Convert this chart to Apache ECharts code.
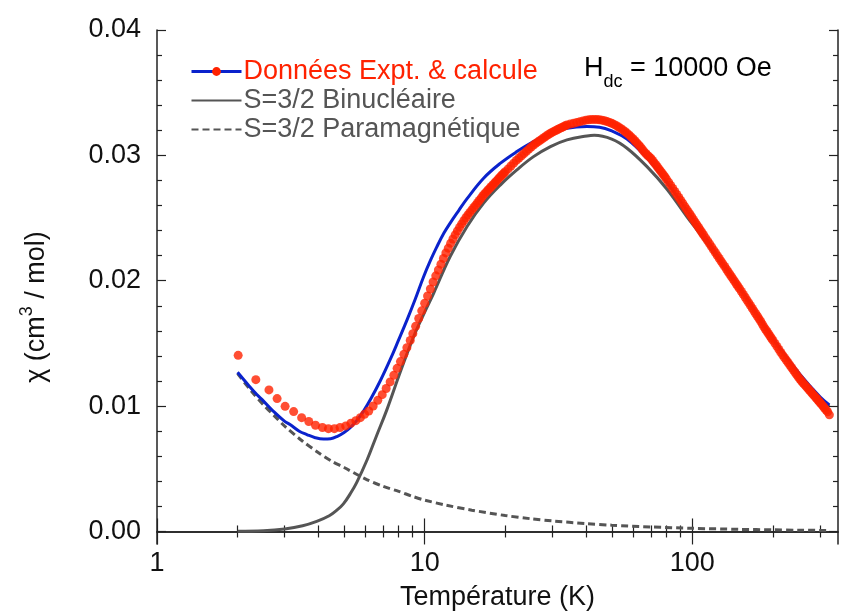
<!DOCTYPE html>
<html><head><meta charset="utf-8">
<script src="https://cdn.jsdelivr.net/npm/echarts@6/dist/echarts.min.js"></script>
<style>html,body{margin:0;padding:0;background:#fff}#c{width:845px;height:612px}</style>
</head><body><div id="c"></div>
<script>
// ---- data ----
const redT = [2.01,2.34,2.62,2.81,3.01,3.24,3.47,3.69,3.91,4.15,4.37,4.60,4.83,5.07,5.30,5.53,5.75,5.96,6.18,6.42,6.68,6.94,7.18,7.43,7.67,7.89,8.12,8.36,8.58,8.83,9.03,
  9.25,9.5,9.75,10,10.25,10.5,10.75,11,11.25,11.5,11.75,
  12,12.25,12.5,12.75,13,13.25,13.5,13.75,14,14.25,14.5,14.75,15,15.25,15.5,15.75,16,16.25,16.5,16.75,17,17.25,17.5,17.75,18,18.25,18.5,18.75,19,19.25,19.5,19.75,
  20,20.5,21,21.5,22,22.5,23,23.5,24,24.5,25,25.5,26,26.5,27,27.5,28,28.5,29,29.5,30,30.5,31,31.5,32,32.5,33,33.5,34,
  35,36,37,38,39,40,41,42,43,44,45,46,47,48,49,50,51,52,53,54,55,56,57,58,59,60,61,62,63,64,65,66,67,68,69,70,71,72,73,74,75,76,77,78,79,80,
  81.5,83,84.5,86,87.5,89,90.5,92,93.5,95,96.5,98,99.5,101,102.5,104,105.5,107,108.5,110,
  112,114,116,118,120,122,124,126,128,130,132,134,136,138,140,142,144,146,148,150,
  152.5,155,157.5,160,162.5,165,167.5,170,172.5,175,177.5,180,182.5,185,187.5,190,192.5,195,197.5,200,
  203.5,207,210.5,214,217.5,221,224.5,228,231.5,235,238.5,242,245.5,249,252.5,256,259.5,263,266.5,270,273.5,277,280.5,284,287.5,291,294.5,298,301.5,305,308.5,312,316,320,325];
const redChi = [0.01405,0.01211,0.01129,0.0106,0.00998,0.00956,0.00908,0.00877,0.00847,0.00829,0.0082,0.0082,0.00829,0.00842,0.00863,0.00884,0.00908,0.00935,0.00961,0.01001,0.01046,0.01091,0.0114,0.01193,0.01246,0.01301,0.01355,0.01413,0.01466,0.01524,0.01578,
  0.01636,0.01699,0.0176,0.0182,0.01878,0.01934,0.0199,0.02039,0.02086,0.02132,0.02178,
  0.02222,0.0226,0.02298,0.02333,0.02366,0.02397,0.02426,0.02453,0.02478,0.02502,0.02524,0.02545,0.02565,0.02584,0.02603,0.02622,0.0264,0.02659,0.02678,0.02694,0.02709,0.02724,0.02738,0.02752,0.02766,0.0278,0.02793,0.02807,0.0282,0.02833,0.02845,0.02857,
  0.02869,0.02892,0.02915,0.02938,0.0296,0.02979,0.02997,0.03015,0.03033,0.0305,0.03067,0.03082,0.03096,0.03108,0.0312,0.03132,0.03144,0.03155,0.03166,0.03176,0.03185,0.03193,0.032,0.03208,0.03215,0.03222,0.03229,0.03236,0.03243,
  0.0325,0.03256,0.03263,0.03269,0.03275,0.03281,0.03284,0.03286,0.03287,0.03286,0.03284,0.03281,0.03276,0.0327,0.03263,0.03256,0.03247,0.03237,0.03226,0.03215,0.03203,0.0319,0.03177,0.03163,0.03148,0.03133,0.03117,0.031,0.03084,0.03068,0.03049,0.0303,0.03015,0.03,0.02988,0.02976,0.02959,0.02942,0.02926,0.02909,0.02892,0.02876,0.0286,0.02844,0.02828,0.02811,
  0.02786,0.02761,0.02736,0.02712,0.02688,0.02664,0.02641,0.02618,0.02595,0.02573,0.02551,0.0253,0.02508,0.02487,0.02466,0.02446,0.02426,0.02406,0.02386,0.02367,
  0.02342,0.02318,0.02294,0.0227,0.02246,0.02223,0.022,0.02178,0.02156,0.02135,0.02114,0.02093,0.02072,0.02052,0.02032,0.02013,0.01993,0.01974,0.01955,0.01937,
  0.01914,0.01891,0.01868,0.01845,0.01823,0.01801,0.01779,0.01758,0.01737,0.01717,0.01696,0.01676,0.01654,0.01632,0.01613,0.01595,0.01577,0.01559,0.01541,0.01524,
  0.015,0.01476,0.01452,0.01428,0.01407,0.01386,0.01366,0.01346,0.01326,0.01306,0.01287,0.01268,0.01249,0.01231,0.01214,0.01198,0.01183,0.01169,0.01155,0.01141,0.01127,0.01114,0.011,0.01087,0.01074,0.01061,0.01048,0.01035,0.01022,0.0101,0.00997,0.00983,0.00969,0.00955,0.0093];

const calcT = [2.0,2.2,2.36,2.5,2.72,3.0,3.14,3.4,3.63,3.9,4.19,4.45,4.7,5.0,5.27,5.6,5.91,6.3,6.82,7.43,8.0,8.6,9.21,9.9,10.5,11.1,11.8,12.45,13.4,14.4,16.6,19.2,22.1,25.5,29.5,34,40.4,45,50,57,67.7,80,95.5,107,127,151,180,213,253,301,325];
const calcChi = [0.0127,0.01165,0.01092,0.0104,0.00959,0.00878,0.00853,0.0080,0.00773,0.00748,0.00737,0.0074,0.00757,0.0079,0.00828,0.0089,0.0096,0.0106,0.0120,0.0137,0.0153,0.0169,0.0185,0.0203,0.0216,0.0227,0.0238,0.0246,0.0256,0.02655,0.02818,0.02938,0.0303,0.0311,0.03177,0.03217,0.0323,0.03225,0.03195,0.0313,0.0298,0.0279,0.0256,0.0241,0.0217,0.0194,0.0169,0.0146,0.0125,0.0107,0.0101];

const binT = [2.0,2.5,3.0,3.5,3.95,4.4,4.7,4.97,5.27,5.57,6.09,6.6,7.22,8.1,9.08,10.0,10.8,12.45,14.4,16.6,19.2,22.1,25.5,29.5,34,40.4,43,50,57,67.7,80.4,95.5,107,127,151,180,213,253,301,325];
const binChi = [0.00002,0.00006,0.0002,0.00045,0.0008,0.00125,0.0017,0.0022,0.003,0.0039,0.0057,0.0076,0.0097,0.0127,0.0155,0.0175,0.0190,0.02193,0.02433,0.02619,0.02765,0.02884,0.0299,0.0307,0.03124,0.03155,0.0316,0.0313,0.03057,0.0291,0.0273,0.0251,0.0237,0.0215,0.0193,0.0168,0.0145,0.0124,0.0106,0.0100];

const paraT = [2.0,2.25,2.5,2.75,3.0,3.5,4.0,4.5,5.0,6.0,7.0,8.0,9.0,10,12,15,20,25,30,40,50,70,100,150,200,250,325];
const paraChi = [0.0126,0.0112,0.0101,0.0092,0.0084,0.0072,0.0063,0.0056,0.0051,0.0042,0.0036,0.0032,0.0028,0.0025,0.0021,0.0017,0.00127,0.00101,0.00084,0.00063,0.0005,0.00036,0.00025,0.00017,0.00013,0.0001,0.00008];

const seriesNames = ['Données Expt. & calcule','S=3/2 Binucléaire','S=3/2 Paramagnétique'];
const xMajorTicks = [1,10,100];
const xMinorTicks = [2,3,4,5,6,7,8,9,20,30,40,50,60,70,80,90,200,300];
const yMajorTicks = [0,0.01,0.02,0.03,0.04];
const yMinorTicks = [0.002,0.004,0.006,0.008,0.012,0.014,0.016,0.018,0.022,0.024,0.026,0.028,0.032,0.034,0.036,0.038];

// ---- styles ----
const FONT = 'Liberation Sans';
const RED = '#ff2200', BLUE = '#0a22cc', GREY = '#555555', AX = '#222222';
const pairs = (a, b) => a.map((t, i) => [t, b[i]]);

function xAx(pos, ticks, len, showLine, labels) {
  return {
    type: 'log', logBase: 10, min: 1, max: 350, position: pos, gridIndex: 0,
    axisLine: { show: showLine, lineStyle: { color: AX, width: 1.5 } },
    axisTick: { show: true, inside: true, length: len, customValues: ticks, lineStyle: { color: AX, width: 1.2 } },
    axisLabel: labels ? { show: true, customValues: ticks, fontSize: 27, fontFamily: FONT, color: '#111', margin: 6, formatter: v => String(Math.round(v)) } : { show: false },
    splitLine: { show: false }, minorTick: { show: false }
  };
}
function yAx(pos, ticks, len, showLine, labels) {
  return {
    type: 'value', min: -0.001, max: 0.04, position: pos, gridIndex: 0,
    axisLine: { show: showLine, lineStyle: { color: AX, width: 1.5 } },
    axisTick: { show: true, inside: true, length: len, customValues: ticks, lineStyle: { color: AX, width: 1.2 } },
    axisLabel: labels ? { show: true, customValues: ticks, fontSize: 27, fontFamily: FONT, color: '#111', margin: 16, formatter: v => v.toFixed(2) } : { show: false },
    splitLine: { show: false }
  };
}

const xAxes = [xAx('bottom', xMajorTicks, 13, true, true), xAx('bottom', xMinorTicks, 6, false, false),
               xAx('top', xMajorTicks, 13, true, false), xAx('top', xMinorTicks, 6, false, false)];
Object.assign(xAxes[0], { name: 'Température (K)', nameLocation: 'middle', nameGap: 40,
  nameTextStyle: { fontSize: 27, fontFamily: FONT, color: '#111' } });
const yAxes = [yAx('left', yMajorTicks, 9, true, true), yAx('left', yMinorTicks, 5, false, false),
               yAx('right', yMajorTicks, 9, true, false), yAx('right', yMinorTicks, 5, false, false)];
Object.assign(yAxes[0], { name: '{t|χ (cm}{s|3}{t| / mol)}', nameLocation: 'middle', nameGap: 107,
  nameTextStyle: { fontFamily: FONT, color: '#111', padding: [0, 40, 0, 0],
    rich: { t: { fontSize: 27, fontFamily: FONT, color: '#111', lineHeight: 32, verticalAlign: 'bottom' },
            s: { fontSize: 18, fontFamily: FONT, color: '#111', lineHeight: 18, verticalAlign: 'top' } } } });

const chart = echarts.init(document.getElementById('c'), null, { renderer: 'canvas' });
chart.setOption({
  animation: false,
  backgroundColor: '#ffffff',
  grid: { left: 157, right: 7, top: 30, bottom: 68, containLabel: false, outerBoundsMode: 'none' },
  title: {
    text: '{h|H}{s|dc}{h| = 10000 Oe}', left: 579, top: 50,
    textStyle: { fontWeight: 'normal', rich: {
      h: { fontSize: 27, fontFamily: FONT, color: '#000', fontWeight: 'normal', lineHeight: 30, verticalAlign: 'top' },
      s: { fontSize: 18, fontFamily: FONT, color: '#000', fontWeight: 'normal', lineHeight: 18, verticalAlign: 'top', padding: [18, 0, 0, 0] } } }
  },
  legend: {
    orient: 'vertical', left: 185, top: 53, itemWidth: 50, itemHeight: 11, itemGap: 2,
    textStyle: { fontSize: 27, fontFamily: FONT, color: GREY, padding: [0, 0, 0, -3] },
    data: [
      { name: seriesNames[0], textStyle: { color: RED }, itemStyle: { color: RED }, lineStyle: { color: BLUE, width: 3 } },
      { name: seriesNames[1], textStyle: { color: GREY }, itemStyle: { opacity: 0 } },
      { name: seriesNames[2], textStyle: { color: GREY }, itemStyle: { opacity: 0 } }
    ]
  },
  xAxis: xAxes,
  yAxis: yAxes,
  series: [
    { name: seriesNames[2], type: 'line', xAxisIndex: 0, yAxisIndex: 0, data: pairs(paraT, paraChi),
      symbol: 'none', smooth: 0.3, lineStyle: { color: GREY, width: 3, type: [7, 4] }, itemStyle: { color: GREY }, z: 2 },
    { name: seriesNames[1], type: 'line', xAxisIndex: 0, yAxisIndex: 0, data: pairs(binT, binChi),
      symbol: 'none', smooth: 0.4, lineStyle: { color: GREY, width: 3 }, itemStyle: { color: GREY }, z: 3 },
    { name: seriesNames[0], type: 'line', xAxisIndex: 0, yAxisIndex: 0, data: pairs(calcT, calcChi),
      symbol: 'circle', showSymbol: false, smooth: 0.4, lineStyle: { color: BLUE, width: 3 }, itemStyle: { color: RED }, z: 4 },
    { name: 'Données Expt.', type: 'scatter', xAxisIndex: 0, yAxisIndex: 0, data: pairs(redT, redChi),
      symbol: 'circle', symbolSize: 9, itemStyle: { color: RED }, z: 5 }
  ]
});
</script></body></html>
